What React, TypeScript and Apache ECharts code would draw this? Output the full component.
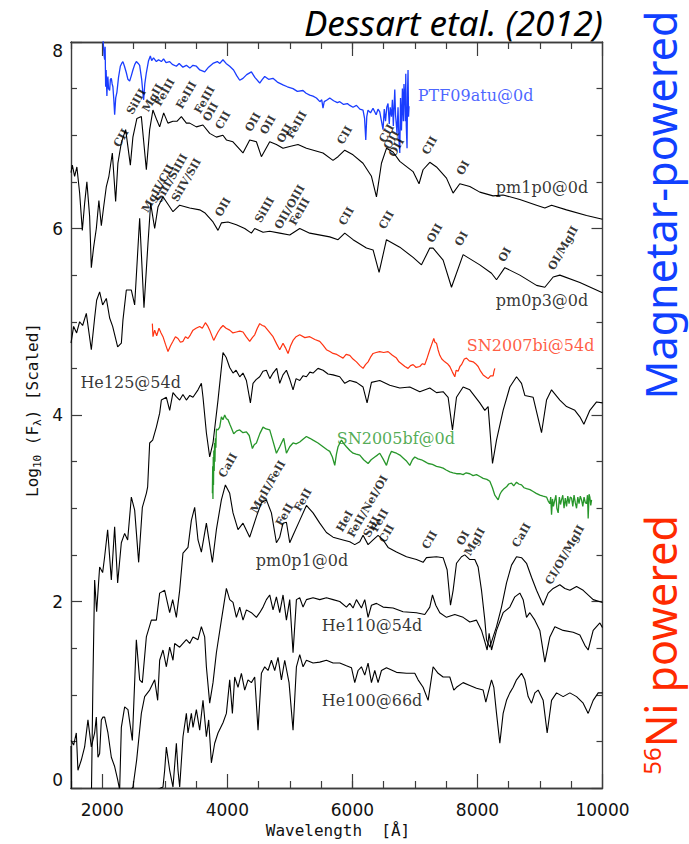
import React, { useEffect, useRef } from "react";
import * as echarts from "echarts";

type Pt = [number, number];

// Wavelength [Å], log10 flux (scaled, offset per spectrum)
const ptf09atu: Pt[] = [
  [2010, 8.05], [2030, 7.85], [2038, 7.81], [2046, 7.95], [2054, 7.52], [2062, 7.7], [2074, 7.42], [2082, 7.58],
  [2090, 7.63], [2100, 7.5], [2118, 7.48], [2130, 7.6], [2145, 7.61], [2158, 7.55], [2170, 7.52], [2185, 7.38],
  [2198, 7.22], [2215, 7.4], [2234, 7.46], [2260, 7.62], [2289, 7.74], [2310, 7.77], [2330, 7.79], [2355, 7.74],
  [2385, 7.67], [2410, 7.6], [2438, 7.58], [2465, 7.64], [2490, 7.7], [2520, 7.76], [2545, 7.79], [2575, 7.77],
  [2598, 7.75], [2630, 7.6], [2650, 7.45], [2662, 7.38], [2680, 7.55], [2705, 7.67], [2740, 7.8], [2769, 7.85],
  [2790, 7.8], [2820, 7.83], [2865, 7.79], [2900, 7.81], [2945, 7.79], [2980, 7.82], [3020, 7.78], [3078, 7.79],
  [3120, 7.76], [3185, 7.74], [3230, 7.77], [3290, 7.73], [3345, 7.75], [3400, 7.72], [3450, 7.75], [3505, 7.74],
  [3560, 7.7], [3600, 7.69], [3638, 7.68], [3700, 7.73], [3770, 7.77], [3840, 7.79], [3880, 7.77], [3930, 7.81],
  [3980, 7.77], [4038, 7.74], [4100, 7.7], [4150, 7.64], [4198, 7.59], [4250, 7.61], [4310, 7.65], [4385, 7.68],
  [4440, 7.62], [4518, 7.56], [4560, 7.6], [4598, 7.63], [4660, 7.6], [4730, 7.61], [4800, 7.57], [4890, 7.54],
  [4960, 7.52], [5050, 7.5], [5120, 7.47], [5210, 7.48], [5260, 7.45], [5318, 7.43], [5370, 7.42], [5425, 7.4],
  [5480, 7.36], [5510, 7.38], [5530, 7.29], [5550, 7.36], [5600, 7.38], [5638, 7.4], [5700, 7.37], [5760, 7.35],
  [5798, 7.36], [5860, 7.33], [5920, 7.34], [5958, 7.32], [6010, 7.3], [6065, 7.32], [6120, 7.28], [6170, 7.27],
  [6195, 7.18], [6214, 6.95], [6230, 7.2], [6250, 7.27], [6290, 7.24], [6330, 7.29], [6380, 7.22], [6410, 7.28],
  [6438, 7.25], [6460, 7.17], [6490, 7.06], [6510, 7.28], [6530, 7.15], [6550, 7.3], [6570, 7.34], [6590, 7.12],
  [6605, 7.3], [6625, 7.2], [6640, 7.38], [6655, 7.1], [6678, 7.49], [6690, 7.22], [6714, 7.02], [6730, 7.3],
  [6745, 6.95], [6758, 6.81], [6770, 7.4], [6785, 7.05], [6800, 7.5], [6815, 7.15], [6825, 7.55], [6838, 7.41],
  [6846, 7.15], [6854, 7.66], [6862, 7.1], [6874, 6.86], [6882, 7.45], [6890, 7.7], [6898, 7.2], [6906, 7.31],
];

const pm1p0: Pt[] = [
  [1500, 6.6], [1521, 6.68], [1558, 6.56], [1594, 6.66], [1638, 6.38], [1681, 5.98], [1718, 6.27], [1754, 6.5],
  [1798, 6.13], [1825, 5.58], [1862, 5.8], [1905, 6.0], [1946, 6.3], [1985, 6.03], [2022, 6.23], [2065, 6.45],
  [2106, 6.56], [2161, 6.81], [2214, 6.29], [2250, 6.7], [2305, 6.92], [2374, 7.06], [2449, 6.68], [2490, 6.98],
  [2554, 7.18], [2625, 7.2], [2705, 6.63], [2758, 7.06], [2810, 7.27], [2874, 7.16], [2918, 7.09], [2982, 7.24],
  [3050, 7.13], [3130, 7.15], [3194, 7.15], [3265, 7.2], [3345, 7.13], [3398, 7.13], [3505, 7.09], [3610, 7.11],
  [3718, 7.02], [3825, 6.98], [3930, 7.0], [3985, 6.95], [4090, 6.93], [4250, 6.81], [4358, 6.95], [4465, 6.93],
  [4545, 6.77], [4678, 6.93], [4785, 6.9], [4890, 6.86], [4998, 6.88], [5130, 6.9], [5265, 6.86], [5530, 6.81],
  [5690, 6.73], [5770, 6.77], [5878, 6.84], [6010, 6.79], [6170, 6.7], [6305, 6.56], [6385, 6.34], [6465, 6.7],
  [6545, 6.86], [6650, 6.82], [6758, 6.72], [6970, 6.61], [7066, 6.48], [7130, 6.63], [7238, 6.71], [7345, 6.66],
  [7505, 6.54], [7610, 6.38], [7718, 6.48], [7878, 6.45], [8038, 6.39], [8250, 6.35], [8410, 6.36], [8678, 6.31],
  [8945, 6.25], [9078, 6.22], [9185, 6.25], [9425, 6.2], [9745, 6.14], [10000, 6.1],
];

const pm0p3: Pt[] = [
  [1500, 4.77], [1542, 4.95], [1590, 4.88], [1638, 5.0], [1686, 4.96], [1745, 5.09], [1825, 4.7], [1878, 5.04],
  [1910, 5.23], [1958, 5.32], [2006, 5.18], [2065, 5.25], [2118, 5.04], [2166, 4.95], [2246, 4.73], [2305, 4.77],
  [2331, 5.02], [2385, 5.34], [2465, 5.34], [2518, 5.18], [2598, 6.11], [2667, 5.15], [2731, 5.84], [2774, 6.27],
  [2838, 6.0], [2891, 6.23], [2971, 6.34], [3131, 6.18], [3238, 6.25], [3398, 6.22], [3558, 6.2], [3638, 6.17],
  [3771, 6.07], [3851, 5.98], [3905, 6.06], [4011, 6.07], [4145, 6.04], [4278, 6.0], [4385, 5.95], [4438, 6.0],
  [4571, 5.96], [4678, 5.97], [4838, 5.95], [4998, 5.93], [5158, 6.0], [5318, 5.95], [5638, 5.91], [5771, 5.88],
  [5878, 5.95], [6011, 5.88], [6225, 5.79], [6331, 5.77], [6427, 5.53], [6545, 5.88], [6758, 5.8], [6971, 5.69],
  [7105, 5.61], [7238, 5.79], [7291, 5.79], [7451, 5.66], [7585, 5.37], [7771, 5.72], [8038, 5.61], [8225, 5.52],
  [8305, 5.45], [8438, 5.58], [8678, 5.5], [8945, 5.39], [9078, 5.37], [9211, 5.48], [9318, 5.5], [9638, 5.42],
  [10000, 5.31],
];

const sn2007bi: Pt[] = [
  [2801, 4.98], [2811, 4.84], [2838, 4.91], [2870, 4.85], [2907, 4.93], [2940, 4.88], [2971, 4.84], [3010, 4.76],
  [3051, 4.68], [3090, 4.74], [3131, 4.79], [3170, 4.84], [3211, 4.82], [3250, 4.78], [3291, 4.79], [3330, 4.84],
  [3371, 4.82], [3410, 4.86], [3451, 4.91], [3500, 4.93], [3558, 4.95], [3600, 4.93], [3649, 4.99], [3690, 4.95],
  [3718, 4.91], [3782, 4.8], [3820, 4.85], [3851, 4.89], [3890, 4.93], [3931, 4.96], [3980, 4.93], [4038, 4.91],
  [4090, 4.88], [4145, 4.89], [4200, 4.9], [4251, 4.89], [4300, 4.84], [4358, 4.79], [4400, 4.83], [4438, 4.86],
  [4480, 4.93], [4518, 4.98], [4560, 4.96], [4598, 4.95], [4660, 4.9], [4731, 4.84], [4790, 4.76], [4838, 4.7],
  [4891, 4.77], [4930, 4.72], [4971, 4.66], [5010, 4.74], [5051, 4.8], [5100, 4.84], [5158, 4.86], [5240, 4.83],
  [5318, 4.84], [5400, 4.81], [5478, 4.79], [5530, 4.75], [5585, 4.7], [5640, 4.68], [5691, 4.66], [5750, 4.65],
  [5798, 4.63], [5851, 4.61], [5900, 4.65], [5958, 4.64], [6010, 4.6], [6065, 4.57], [6120, 4.53], [6171, 4.5],
  [6210, 4.54], [6251, 4.57], [6290, 4.62], [6331, 4.66], [6380, 4.67], [6438, 4.68], [6500, 4.67], [6571, 4.68],
  [6640, 4.64], [6705, 4.61], [6745, 4.57], [6785, 4.55], [6840, 4.52], [6891, 4.5], [6930, 4.53], [6971, 4.54],
  [7020, 4.51], [7078, 4.52], [7120, 4.55], [7158, 4.54], [7200, 4.62], [7238, 4.7], [7270, 4.76], [7302, 4.82],
  [7320, 4.78], [7345, 4.77], [7370, 4.7], [7398, 4.64], [7430, 4.6], [7478, 4.57], [7520, 4.55], [7558, 4.52],
  [7600, 4.46], [7638, 4.41], [7660, 4.48], [7691, 4.47], [7720, 4.52], [7745, 4.54], [7790, 4.6], [7825, 4.61],
  [7870, 4.58], [7931, 4.57], [7970, 4.55], [8011, 4.52], [8050, 4.47], [8091, 4.43], [8130, 4.41], [8171, 4.39],
  [8210, 4.42], [8251, 4.42], [8265, 4.47], [8278, 4.5],
];

const he125: Pt[] = [
  [1500, 0.45], [1508, -0.3], [1815, -0.3], [1828, 0.0], [1851, 1.16], [1878, 2.23], [1910, 1.89], [1958, 2.37],
  [2006, 2.31], [2038, 2.48], [2086, 2.77], [2145, 2.23], [2198, 2.8], [2246, 2.2], [2305, 2.63], [2358, 2.73],
  [2406, 2.66], [2465, 3.12], [2518, 2.98], [2582, 2.42], [2641, 3.01], [2705, 3.16], [2726, 3.23], [2758, 3.7],
  [2806, 3.73], [2865, 3.87], [2918, 4.02], [2945, 4.16], [3025, 4.19], [3078, 4.05], [3131, 4.24], [3180, 4.2],
  [3238, 4.16], [3290, 4.22], [3345, 4.16], [3400, 4.21], [3451, 4.19], [3531, 4.27], [3585, 4.34], [3611, 4.19],
  [3665, 3.81], [3718, 3.55], [3771, 3.7], [3851, 4.16], [3931, 4.67], [3980, 4.62], [4038, 4.51], [4091, 4.45],
  [4140, 4.48], [4198, 4.41], [4250, 4.45], [4305, 4.37], [4369, 4.13], [4411, 4.34], [4460, 4.38], [4518, 4.41],
  [4570, 4.47], [4625, 4.48], [4680, 4.39], [4731, 4.45], [4790, 4.5], [4838, 4.34], [4890, 4.43], [4945, 4.48],
  [5000, 4.38], [5051, 4.27], [5100, 4.39], [5158, 4.37], [5210, 4.42], [5265, 4.41], [5320, 4.46], [5371, 4.45],
  [5450, 4.5], [5531, 4.48], [5610, 4.44], [5691, 4.43], [5798, 4.41], [5878, 4.34], [5958, 4.37], [6065, 4.35],
  [6171, 4.3], [6235, 4.13], [6305, 4.35], [6438, 4.37], [6598, 4.32], [6758, 4.29], [6918, 4.3], [7078, 4.25],
  [7238, 4.29], [7345, 4.24], [7451, 4.25], [7531, 4.19], [7601, 3.84], [7665, 4.19], [7771, 4.3], [7878, 4.27],
  [8038, 4.13], [8118, 4.05], [8171, 4.09], [8241, 3.48], [8305, 3.73], [8411, 4.05], [8518, 4.3], [8625, 4.41],
  [8705, 4.34], [8758, 4.21], [8891, 4.19], [9025, 3.81], [9105, 4.16], [9185, 4.27], [9318, 4.16], [9425, 4.09],
  [9558, 4.05], [9638, 3.98], [9702, 3.9], [9798, 4.05], [9905, 4.14], [10000, 4.13],
];

const sn2005bf: Pt[] = [
  [3761, 3.16], [3766, 3.45], [3770, 3.1], [3775, 3.55], [3779, 3.25], [3784, 3.62], [3790, 3.4], [3796, 3.7],
  [3802, 3.5], [3809, 3.75], [3817, 3.65], [3825, 3.85], [3850, 3.84], [3878, 3.87], [3905, 3.98], [3930, 3.95],
  [3958, 4.0], [3985, 3.96], [4011, 3.95], [4040, 3.9], [4065, 3.86], [4102, 3.8], [4150, 3.83], [4198, 3.84],
  [4250, 3.81], [4305, 3.82], [4350, 3.78], [4401, 3.64], [4430, 3.68], [4465, 3.7], [4520, 3.8], [4571, 3.87],
  [4620, 3.85], [4678, 3.84], [4730, 3.72], [4785, 3.59], [4838, 3.66], [4902, 3.75], [4945, 3.59], [4998, 3.66],
  [5051, 3.7], [5100, 3.69], [5158, 3.71], [5210, 3.74], [5265, 3.77], [5320, 3.75], [5371, 3.73], [5450, 3.7],
  [5531, 3.66], [5590, 3.63], [5638, 3.61], [5680, 3.55], [5718, 3.46], [5745, 3.58], [5771, 3.66], [5800, 3.7],
  [5825, 3.73], [5865, 3.69], [5905, 3.66], [5960, 3.62], [6011, 3.59], [6060, 3.58], [6118, 3.57], [6180, 3.52],
  [6251, 3.48], [6300, 3.52], [6358, 3.55], [6400, 3.57], [6438, 3.59], [6490, 3.53], [6545, 3.46], [6590, 3.56],
  [6625, 3.61], [6665, 3.6], [6705, 3.59], [6760, 3.57], [6811, 3.54], [6860, 3.51], [6918, 3.46], [6960, 3.52],
  [6998, 3.55], [7050, 3.53], [7105, 3.52], [7160, 3.5], [7211, 3.48], [7280, 3.47], [7345, 3.45], [7400, 3.44],
  [7451, 3.43], [7500, 3.41], [7558, 3.39], [7610, 3.38], [7665, 3.37], [7720, 3.37], [7771, 3.36], [7820, 3.38],
  [7878, 3.37], [7930, 3.35], [7985, 3.36], [8040, 3.34], [8091, 3.32], [8150, 3.31], [8198, 3.29], [8240, 3.22],
  [8278, 3.14], [8300, 3.12], [8331, 3.09], [8360, 3.15], [8385, 3.18], [8425, 3.21], [8465, 3.23], [8500, 3.26],
  [8545, 3.27], [8580, 3.24], [8625, 3.28], [8660, 3.26], [8705, 3.25], [8745, 3.22], [8785, 3.21], [8840, 3.2],
  [8891, 3.18], [8940, 3.16], [8998, 3.14], [9050, 3.13], [9105, 3.12], [9130, 3.08], [9158, 3.05], [9172, 3.12],
  [9185, 2.93], [9200, 3.1], [9215, 3.02], [9238, 3.09], [9255, 3.14], [9270, 3.0], [9291, 2.95], [9310, 3.12],
  [9328, 3.04], [9345, 3.09], [9365, 3.14], [9385, 3.0], [9405, 3.11], [9425, 3.02], [9445, 3.13], [9465, 3.05],
  [9485, 3.12], [9505, 3.11], [9525, 3.02], [9545, 3.14], [9565, 3.06], [9585, 3.0], [9605, 3.12], [9625, 3.05],
  [9645, 3.13], [9665, 3.09], [9685, 3.02], [9705, 3.12], [9725, 3.06], [9745, 3.05], [9760, 3.14], [9771, 2.89],
  [9785, 3.15], [9798, 3.12], [9812, 3.03], [9825, 3.09],
];

const pm0p1: Pt[] = [
  [1500, 0.51], [1542, 0.46], [1585, 0.59], [1611, 0.19], [1665, 0.3], [1718, 0.44], [1771, 0.73], [1825, 0.44],
  [1878, 0.59], [1905, 0.76], [1931, 0.33], [1958, 0.37], [1985, 0.73], [2011, 0.76], [2038, 0.76], [2091, 0.59],
  [2145, 0.33], [2198, 0.23], [2246, 0.09], [2278, -0.02], [2305, 0.65], [2358, 0.87], [2411, 0.84], [2481, 0.51],
  [2545, 1.59], [2598, 1.16], [2641, 1.13], [2705, 1.62], [2785, 1.8], [2865, 1.8], [2918, 2.09], [2998, 2.12],
  [3078, 1.88], [3126, 2.02], [3185, 1.83], [3238, 2.12], [3291, 2.52], [3371, 2.58], [3425, 2.87], [3478, 3.01],
  [3531, 2.66], [3585, 2.53], [3665, 2.84], [3761, 2.42], [3825, 2.77], [3905, 3.09], [3969, 3.25], [4038, 3.16],
  [4091, 2.95], [4171, 2.77], [4251, 2.84], [4358, 2.69], [4465, 2.91], [4545, 3.06], [4625, 3.09], [4705, 2.95],
  [4785, 2.63], [4838, 2.69], [4891, 2.84], [4945, 2.85], [4998, 2.63], [5051, 2.71], [5158, 2.87], [5265, 3.03],
  [5371, 2.95], [5478, 2.84], [5585, 2.74], [5691, 2.69], [5851, 2.66], [5958, 2.64], [6038, 2.61], [6118, 2.64],
  [6171, 2.71], [6251, 2.61], [6331, 2.66], [6411, 2.71], [6491, 2.66], [6571, 2.58], [6705, 2.53], [6865, 2.48],
  [7025, 2.45], [7131, 2.42], [7185, 2.47], [7345, 2.48], [7451, 2.47], [7515, 2.34], [7569, 1.96], [7611, 2.12],
  [7665, 2.41], [7745, 2.48], [7798, 2.5], [7878, 2.45], [7958, 2.45], [8011, 2.37], [8065, 2.12], [8118, 1.8],
  [8145, 1.59], [8198, 1.51], [8251, 1.62], [8305, 1.73], [8385, 1.94], [8465, 2.2], [8545, 2.39], [8625, 2.48],
  [8705, 2.47], [8785, 2.41], [8865, 2.26], [8945, 2.12], [9051, 1.96], [9131, 2.09], [9211, 2.14], [9318, 2.18],
  [9398, 2.14], [9478, 2.12], [9585, 2.16], [9691, 2.12], [9851, 2.02], [10000, 1.99],
];

const he110: Pt[] = [
  [2350, -0.1], [2491, 0.01], [2550, 0.3], [2625, 0.8], [2678, 0.98], [2758, 1.05], [2838, 1.16], [2886, 0.94],
  [2918, 1.37], [2971, 1.48], [3025, 1.3], [3078, 1.51], [3131, 1.37], [3158, 1.55], [3238, 1.51], [3291, 1.55],
  [3345, 1.59], [3398, 1.55], [3451, 1.62], [3531, 1.59], [3585, 1.73], [3638, 1.62], [3665, 1.3], [3718, 0.91],
  [3771, 1.13], [3825, 1.45], [3905, 1.8], [3985, 2.14], [4038, 2.02], [4091, 1.99], [4145, 1.83], [4198, 1.94],
  [4251, 1.8], [4305, 1.91], [4385, 1.88], [4465, 1.83], [4518, 1.88], [4571, 1.94], [4625, 2.02], [4678, 2.07],
  [4731, 1.91], [4785, 2.05], [4838, 1.88], [4891, 2.07], [4945, 1.8], [4998, 2.02], [5051, 1.45], [5105, 2.02],
  [5158, 2.04], [5211, 1.94], [5265, 2.02], [5371, 2.04], [5478, 2.02], [5585, 2.04], [5691, 2.02], [5798, 2.0],
  [5905, 1.94], [5958, 1.98], [6011, 1.93], [6065, 2.02], [6145, 1.93], [6198, 2.02], [6251, 1.83], [6305, 1.96],
  [6385, 1.98], [6491, 1.94], [6651, 1.93], [6811, 1.89], [7025, 1.88], [7158, 1.86], [7238, 1.94], [7281, 2.07],
  [7334, 1.96], [7398, 1.88], [7505, 1.83], [7638, 1.86], [7771, 1.83], [7878, 1.78], [7985, 1.8], [8065, 1.69],
  [8118, 1.57], [8155, 1.48], [8187, 1.66], [8225, 1.48], [8305, 1.69], [8411, 1.88], [8518, 1.94], [8598, 2.05],
  [8678, 2.09], [8731, 2.02], [8785, 1.83], [8838, 1.88], [8918, 1.8], [8998, 1.69], [9078, 1.35], [9158, 1.62],
  [9238, 1.73], [9371, 1.69], [9531, 1.67], [9638, 1.64], [9718, 1.53], [9771, 1.48], [9851, 1.69], [9958, 1.77],
  [10000, 1.72],
];

const he100: Pt[] = [
  [2600, -0.1], [2971, 0.01], [2998, 0.19], [3025, 0.44], [3078, 0.19], [3131, 0.01], [3185, 0.48], [3211, 0.19],
  [3238, 0.01], [3291, 0.55], [3345, 0.8], [3371, 0.59], [3425, 0.8], [3451, 0.65], [3505, 0.84], [3558, 0.62],
  [3611, 0.94], [3665, 0.55], [3702, 0.73], [3745, 0.27], [3798, 0.48], [3851, 0.59], [3931, 0.7], [3985, 0.8],
  [4038, 1.16], [4081, 0.8], [4118, 1.19], [4171, 1.08], [4225, 1.23], [4278, 1.05], [4331, 1.16], [4385, 1.13],
  [4438, 1.19], [4491, 0.62], [4545, 1.23], [4598, 1.3], [4651, 1.26], [4705, 1.37], [4758, 1.26], [4811, 1.4],
  [4865, 1.16], [4918, 1.37], [4987, 1.13], [5051, 0.62], [5105, 1.3], [5158, 1.43], [5211, 1.3], [5265, 1.37],
  [5371, 1.34], [5478, 1.35], [5585, 1.37], [5691, 1.34], [5798, 1.34], [5905, 1.31], [5985, 1.29], [6038, 1.13],
  [6091, 1.26], [6145, 1.3], [6198, 1.21], [6251, 1.34], [6305, 1.13], [6358, 1.26], [6411, 1.13], [6465, 1.26],
  [6545, 1.29], [6705, 1.24], [6865, 1.23], [6998, 1.23], [7051, 1.16], [7131, 1.08], [7211, 0.94], [7291, 1.3],
  [7371, 1.23], [7451, 1.19], [7558, 1.19], [7622, 1.05], [7665, 1.08], [7771, 1.13], [7878, 1.1], [7985, 1.07],
  [8091, 1.05], [8134, 0.92], [8171, 1.02], [8225, 1.16], [8262, 1.08], [8305, 0.8], [8358, 0.48], [8411, 0.8],
  [8465, 0.94], [8518, 1.02], [8571, 1.08], [8625, 1.16], [8705, 1.23], [8758, 1.16], [8811, 0.98], [8865, 0.91],
  [8918, 1.02], [8971, 1.05], [9051, 0.94], [9115, 0.59], [9185, 0.94], [9265, 1.02], [9371, 0.98], [9478, 1.02],
  [9585, 0.98], [9691, 0.91], [9771, 0.8], [9851, 0.94], [9931, 1.02], [10000, 1.02],
];

// Line identifications: [ion, wavelength, log flux]
const lineIds: [string, number, number][] = [
  ["CII", 2305, 6.97], ["SiIII", 2545, 7.36], ["MgII", 2806, 7.4], ["FeIII", 2998, 7.46], ["FeIII", 3345, 7.43],
  ["FeIII", 3638, 7.38], ["OII", 3734, 7.25], ["CII", 3931, 7.16], ["OII", 4411, 7.14], ["OII", 4651, 7.11],
  ["OII", 4918, 7.02], ["FeIII", 5110, 7.11], ["CII", 5878, 7.0], ["CII", 6550, 7.02], ["OII", 6625, 6.95],
  ["OII", 6705, 6.87], ["CII", 7238, 6.89], ["OI", 7771, 6.65],
  ["MgII/CII", 2891, 6.43], ["SiII/SiIII", 3105, 6.54], ["SiIV/SII", 3345, 6.52], ["OII", 3931, 6.23],
  ["SiIII", 4598, 6.2], ["OII/OIII", 4998, 6.23], ["FeIII", 5158, 6.18], ["CII", 5905, 6.13], ["CII", 6545, 6.09],
  ["OII", 7318, 5.95], ["OI", 7745, 5.89], ["OI", 8438, 5.72], ["OI/MgII", 9371, 5.79],
  ["CaII", 4011, 3.46], ["MgII/FeII", 4651, 3.23], ["FeII", 4918, 2.93], ["FeII", 5211, 3.09], ["HeI", 5878, 2.86],
  ["FeII/NeI/OI", 6246, 3.02], ["SiII", 6310, 2.8], ["FeII", 6438, 2.87], ["CII", 6550, 2.73], ["CII", 7238, 2.66],
  ["OI", 7771, 2.68], ["MgII", 7958, 2.64], ["CaII", 8705, 2.71], ["CI/OI/MgII", 9398, 2.5],
];

// Spectrum names: [name, wavelength, log flux, colour]
const names: [string, number, number, string][] = [
  ["PTF09atu@0d", 7046, 7.43, "#1a3dff"],
  ["pm1p0@0d", 8294, 6.44, "#000"],
  ["pm0p3@0d", 8294, 5.23, "#000"],
  ["SN2007bi@54d", 7830, 4.75, "#ff3311"],
  ["He125@54d", 1650, 4.35, "#000"],
  ["SN2005bf@0d", 5750, 3.75, "#27962a"],
  ["pm0p1@0d", 4454, 2.44, "#000"],
  ["He110@54d", 5510, 1.74, "#000"],
  ["He100@66d", 5510, 0.94, "#000"],
];

const xMajor = [2000, 4000, 6000, 8000, 10000];
const xMinor = [1500, 2500, 3000, 3500, 4500, 5000, 5500, 6000, 6500, 7000, 7500, 8500, 9000, 9500];

const AXIS = "#3c3c3c";

function spectrum(data: Pt[], color: string, width = 1.1) {
  return {
    type: "line",
    data,
    symbol: "none",
    showSymbol: false,
    silent: true,
    clip: true,
    lineStyle: { color, width },
    z: 2,
  };
}

function xAxisDef(position: "top" | "bottom", ticks: number[], len: number, labels: boolean) {
  return {
    type: "value",
    min: 1500,
    max: 10000,
    position,
    axisLine: { show: true, lineStyle: { color: AXIS, width: 1.4 } },
    axisTick: { show: true, inside: true, length: len, customValues: ticks, lineStyle: { color: AXIS, width: 1.2 } },
    axisLabel: {
      show: labels,
      customValues: xMajor,
      formatter: (v: number) => String(v),
      fontSize: 17,
      fontFamily: "DejaVu Sans",
      color: "#111",
      margin: 13,
    },
    splitLine: { show: false },
  };
}

function yAxisDef(position: "left" | "right", labels: boolean) {
  return {
    type: "value",
    min: 0,
    max: 8,
    interval: 2,
    position,
    axisLine: { show: true, lineStyle: { color: AXIS, width: 1.4 } },
    axisTick: { show: true, inside: true, length: 11, lineStyle: { color: AXIS, width: 1.2 } },
    minorTick: { show: true, splitNumber: 4, length: 6, lineStyle: { color: AXIS, width: 1.2 } },
    axisLabel: {
      show: labels,
      fontSize: 17,
      fontFamily: "DejaVu Sans",
      color: "#111",
      margin: 8,
      verticalAlignMaxLabel: "top",
      verticalAlignMinLabel: "bottom",
    },
    splitLine: { show: false },
  };
}

export default function App() {
  const ref = useRef<HTMLDivElement>(null);

  useEffect(() => {
    const chart = echarts.init(ref.current!, null, { renderer: "svg" });
    const option: any = {
      animation: false,
      backgroundColor: "#fff",
      grid: { left: 71, top: 42, width: 531.5, height: 746, containLabel: false },
      xAxis: [
        xAxisDef("bottom", xMajor, 14, true),
        xAxisDef("bottom", xMinor, 7, false),
        xAxisDef("top", xMajor, 14, false),
        xAxisDef("top", xMinor, 7, false),
      ],
      yAxis: [yAxisDef("left", true), yAxisDef("right", false)],
      series: [
        spectrum(pm1p0, "#000"),
        spectrum(pm0p3, "#000"),
        spectrum(he125, "#000"),
        spectrum(pm0p1, "#000"),
        spectrum(he110, "#000"),
        spectrum(he100, "#000"),
        spectrum(ptf09atu, "#1a3dff", 1.3),
        spectrum(sn2007bi, "#ff3311", 1.2),
        spectrum(sn2005bf, "#27962a", 1.3),
        {
          type: "scatter",
          silent: true,
          symbolSize: 1,
          itemStyle: { color: "rgba(0,0,0,0)" },
          data: lineIds.map(([t, x, y]) => [x, y, t]),
          label: {
            show: true,
            position: "inside",
            rotate: 60,
            formatter: (p: any) => p.value[2],
            fontSize: 11,
            fontWeight: "bold",
            fontFamily: "DejaVu Serif",
            color: "#000",
          },
          z: 5,
        },
        {
          type: "scatter",
          silent: true,
          symbolSize: 1,
          itemStyle: { color: "rgba(0,0,0,0)" },
          data: names.map(([t, x, y, c]) => ({
            value: [x, y],
            name: t,
            label: { color: c },
          })),
          label: {
            show: true,
            position: "inside",
            align: "left",
            formatter: "{b}",
            fontSize: 16,
            fontFamily: "DejaVu Serif",
          },
          z: 5,
        },
      ],
      graphic: [
        {
          type: "text",
          x: 603,
          y: 22,
          style: {
            text: "Dessart etal. (2012)",
            font: "italic 35px 'Noto Sans'",
            fill: "#000",
            align: "right",
            verticalAlign: "middle",
          },
        },
        {
          type: "text",
          x: 338,
          y: 830,
          style: {
            text: "Wavelength  [Å]",
            font: "16px 'DejaVu Sans Mono'",
            fill: "#111",
            align: "center",
            verticalAlign: "middle",
          },
        },
        {
          type: "text",
          x: 32,
          y: 410,
          rotation: Math.PI / 2,
          style: {
            text: "{a|Log}{s|10}{a| (F}{s|λ}{a|) [Scaled]}",
            align: "center",
            verticalAlign: "middle",
            rich: {
              a: { fontSize: 16, fontFamily: "DejaVu Sans Mono", fill: "#111", verticalAlign: "middle", lineHeight: 22 },
              s: { fontSize: 11, fontFamily: "DejaVu Sans Mono", fill: "#111", verticalAlign: "bottom", lineHeight: 22 },
            },
          },
        },
        {
          type: "text",
          x: 660,
          y: 205,
          rotation: Math.PI / 2,
          style: {
            text: "Magnetar-powered",
            font: "43px 'Noto Sans'",
            fill: "#1040ff",
            align: "center",
            verticalAlign: "middle",
          },
        },
        {
          type: "text",
          x: 660,
          y: 645,
          rotation: Math.PI / 2,
          style: {
            text: "{s|56}{n|Ni powered}",
            align: "center",
            verticalAlign: "middle",
            rich: {
              s: { fontSize: 24, fontFamily: "Noto Sans", fill: "#ff2a00", verticalAlign: "top", lineHeight: 42 },
              n: { fontSize: 43, fontFamily: "Noto Sans", fill: "#ff2a00", verticalAlign: "middle", lineHeight: 42 },
            },
          },
        },
      ],
    };
    chart.setOption(option);
    return () => chart.dispose();
  }, []);

  return <div ref={ref} style={{ position: "fixed", left: 0, top: 0, width: 689, height: 844 }} />;
}
